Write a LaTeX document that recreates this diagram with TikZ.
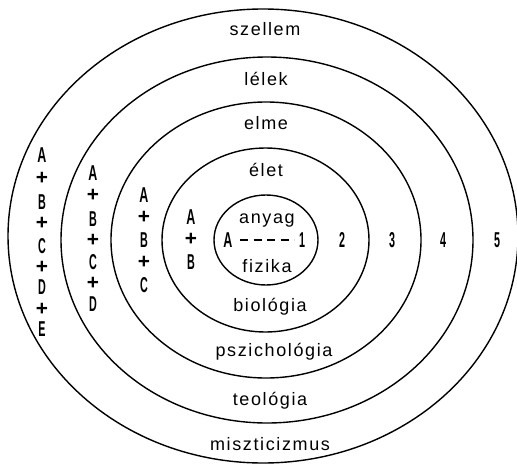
\documentclass[tikz,border=0pt]{standalone}
\usepackage{fontspec}
\setmainfont[LetterSpace=9]{Liberation Sans}
\newfontfamily\condfont{Liberation Sans}
\begin{document}
\begin{tikzpicture}[x=1pt,y=-1pt,
  ring/.style={draw=black,line width=1.4pt},
  lbl/.style={anchor=base,inner sep=0pt,font=\fontsize{18}{20}\selectfont},
  sym/.style={inner sep=0pt,font=\condfont\bfseries\fontsize{21.5}{23}\selectfont},
]
\useasboundingbox (0,0) rectangle (517,466);
\newcommand{\cA}{\scalebox{0.58}[1]{A}}
\newcommand{\cL}[1]{\scalebox{0.5}[1]{#1}}
\newcommand{\cP}{\scalebox{0.97}[0.97]{+}}
% rings
\draw[ring] (263,236) ellipse [x radius=255, y radius=227];
\draw[ring] (267,240) ellipse [x radius=206, y radius=183];
\draw[ring] (266,240) ellipse [x radius=155, y radius=138];
\draw[ring] (265.5,240) ellipse [x radius=103.5, y radius=92];
\draw[ring] (266,240) ellipse [x radius=52, y radius=45];
% labels
\node[lbl] (szellem) at (265,35) {szellem};
\node[lbl] (lelek) at (266,85) {lélek};
\node[lbl] (elme) at (266,129) {elme};
\node[lbl] (elet) at (266,176) {élet};
\node[lbl] (anyag) at (267,223) {anyag};
\node[lbl] (fizika) at (267,272) {fizika};
\node[lbl] (biologia) at (270,311) {biológia};
\node[lbl] (pszich) at (274,356) {pszichológia};
\node[lbl] (teologia) at (270,405) {teológia};
\node[lbl] (miszt) at (270,450) {miszticizmus};
% inner line
\node[sym] (a0) at (228,240) {\cA};
\node[sym] (n1) at (302,240) {\cL{1}};
\draw[line width=2.2pt,dash pattern=on 8pt off 5.5pt] (240,240) -- (294,240);
\node[sym] (n2) at (342,240) {\cL{2}};
\node[sym] (n3) at (392,240) {\cL{3}};
\node[sym] (n4) at (443,240) {\cL{4}};
\node[sym] (n5) at (497,240) {\cL{5}};
% column 4
\node[sym] (c4a) at (191,217) {\cA};
\node[sym] (c4p1) at (191,239) {\cP};
\node[sym] (c4b) at (191,262) {\cL{B}};
% column 3
\node[sym] (c3a) at (144,195) {\cA};
\node[sym] (c3p1) at (144,217) {\cP};
\node[sym] (c3b) at (144,240) {\cL{B}};
\node[sym] (c3p2) at (144,262) {\cP};
\node[sym] (c3c) at (144,285) {\cL{C}};
% column 2
\node[sym] (c2a) at (93,173) {\cA};
\node[sym] (c2p1) at (93,195) {\cP};
\node[sym] (c2b) at (93,219) {\cL{B}};
\node[sym] (c2p2) at (93,240) {\cP};
\node[sym] (c2c) at (93,262) {\cL{C}};
\node[sym] (c2p3) at (93,283) {\cP};
\node[sym] (c2d) at (93,304) {\cL{D}};
% column 1
\node[sym] (c1a) at (42,155) {\cA};
\node[sym] (c1p1) at (42,178) {\cP};
\node[sym] (c1b) at (42,202) {\cL{B}};
\node[sym] (c1p2) at (42,223) {\cP};
\node[sym] (c1c) at (42,246) {\cL{C}};
\node[sym] (c1p3) at (42,267) {\cP};
\node[sym] (c1d) at (42,287) {\cL{D}};
\node[sym] (c1p4) at (42,309) {\cP};
\node[sym] (c1e) at (42,329) {\cL{E}};
\end{tikzpicture}
\end{document}
